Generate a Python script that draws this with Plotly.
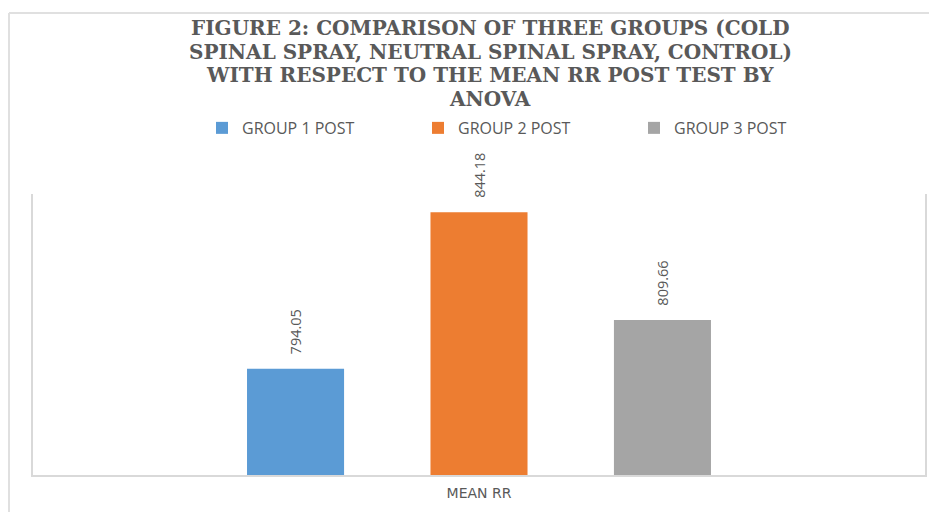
import plotly.graph_objects as go

categories = ["MEAN RR"]
series_names = ["GROUP 1 POST", "GROUP 2 POST", "GROUP 3 POST"]
series_values = [[794.05], [844.18], [809.66]]
series_colors = ["#5b9bd5", "#ed7d31", "#a5a5a5"]
value_labels = [["794.05"], ["844.18"], ["809.66"]]

title_lines = [
    "FIGURE 2: COMPARISON OF THREE GROUPS (COLD",
    "SPINAL SPRAY, NEUTRAL SPINAL SPRAY, CONTROL)",
    "WITH RESPECT TO THE MEAN RR POST TEST BY",
    "ANOVA",
]

# layout geometry (pixels inside the figure)
L, R, T, B = 25, 20, 186, 45
W, H = 937, 512
PH = H - T - B
PW = W - L - R
title_first_center = 20
title_line_step = 23.5

fig = go.Figure()
for name, vals, col, labs in zip(series_names, series_values, series_colors, value_labels):
    fig.add_trace(go.Bar(
        name=name, x=categories, y=vals, marker=dict(color=col, line=dict(width=0)),
        text=["\u00a0\u00a0\u00a0" + s for s in labs], textposition="outside", textangle=-90,
        textfont=dict(family="Open Sans", size=14.5, color="#595959"),
        cliponaxis=False,
    ))

annotations = []
for i, line in enumerate(title_lines):
    yc = title_first_center + i * title_line_step
    annotations.append(dict(
        text=line, xref="paper", yref="paper", x=(482 - L) / PW, y=1 + (T - yc) / PH,
        xanchor="center", yanchor="middle", showarrow=False,
        font=dict(family="DejaVu Serif", size=20, color="#595959", weight="bold"),
    ))

grey = "#d9d9d9"
fig.update_layout(
    width=W, height=H,
    paper_bgcolor="white", plot_bgcolor="white",
    margin=dict(l=L, r=R, t=T, b=B),
    barmode="group", bargap=0.383, bargroupgap=0.471,
    annotations=annotations,
    legend=dict(orientation="h", x=(194 - L) / PW, xanchor="left", y=1.235, yanchor="middle",
                entrywidth=171, entrywidthmode="pixels",
                font=dict(family="Open Sans", size=16, color="#595959"),
                itemclick=False),
    showlegend=True,
    xaxis=dict(showline=True, linecolor=grey, linewidth=1.5, ticks="",
               tickfont=dict(family="DejaVu Sans", size=14, color="#595959"),
               ticklabelstandoff=4, showgrid=False),
    yaxis=dict(range=[760, 850], showline=True, mirror=True, linecolor=grey, linewidth=1.5,
               showticklabels=False, ticks="", showgrid=False, zeroline=False),
    shapes=[
        dict(type="line", xref="paper", yref="paper", x0=(1 - L) / PW, x1=1 + R / PW,
             y0=1 + (T - 5) / PH, y1=1 + (T - 5) / PH,
             line=dict(color="#e0e0e0", width=2)),
        dict(type="line", xref="paper", yref="paper", x0=(1 - L) / PW, x1=(1 - L) / PW,
             y0=-B / PH, y1=1 + (T - 5) / PH,
             line=dict(color="#e0e0e0", width=2)),
    ],
)

fig.write_html("out.html")
